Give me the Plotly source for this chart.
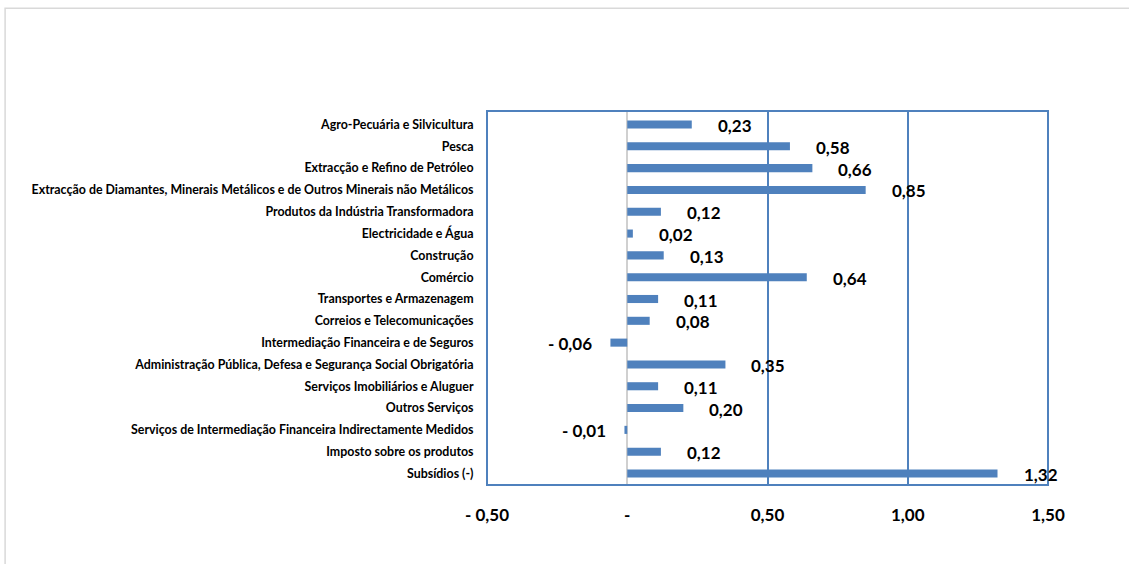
import plotly.graph_objects as go

categories = [
    "Agro-Pecuária e Silvicultura",
    "Pesca",
    "Extracção e Refino de Petróleo",
    "Extracção de Diamantes, Minerais Metálicos e de Outros Minerais não Metálicos",
    "Produtos da Indústria Transformadora",
    "Electricidade e Água",
    "Construção",
    "Comércio",
    "Transportes e Armazenagem",
    "Correios e Telecomunicações",
    "Intermediação Financeira e de Seguros",
    "Administração Pública, Defesa e Segurança Social Obrigatória",
    "Serviços Imobiliários e Aluguer",
    "Outros Serviços",
    "Serviços de Intermediação Financeira Indirectamente Medidos",
    "Imposto sobre os produtos",
    "Subsídios (-)",
]
values = [0.23, 0.58, 0.66, 0.85, 0.12, 0.02, 0.13, 0.64, 0.11, 0.08,
          -0.06, 0.35, 0.11, 0.20, -0.01, 0.12, 1.32]
value_labels = ["0,23", "0,58", "0,66", "0,85", "0,12", "0,02", "0,13", "0,64",
                "0,11", "0,08", "- 0,06", "0,35", "0,11", "0,20", "- 0,01",
                "0,12", "1,32"]
tick_vals = [-0.5, 0, 0.5, 1.0, 1.5]
tick_text = ["- 0,50", "-", "0,50", "1,00", "1,50"]

BLUE = "#4F81BD"
FONT = "Lato"

fig = go.Figure()
fig.add_trace(go.Bar(
    y=categories, x=values, orientation="h",
    marker=dict(color=BLUE, line=dict(width=0)),
    hoverinfo="x+y",
))

annotations = []
for c, v, t in zip(categories, values, value_labels):
    pos = v >= 0
    annotations.append(dict(x=v, y=c, xref="x", yref="y", text=t,
                            showarrow=False,
                            xanchor="left" if pos else "right",
                            xshift=24 if pos else -16, yshift=-1,
                            font=dict(family=FONT, size=17, color="black", weight="bold")))

shapes = [
    # outer chart frame
    dict(type="rect", xref="paper", yref="paper", x0=-0.859, x1=1.3, y0=-0.3, y1=1.275,
         line=dict(color="#D9D9D9", width=1.5), fillcolor="rgba(0,0,0,0)", layer="below"),
    # plot area box
    dict(type="rect", xref="paper", yref="paper", x0=0, x1=1, y0=0, y1=1,
         line=dict(color=BLUE, width=2), fillcolor="rgba(0,0,0,0)"),
]

fig.update_layout(
    width=1129, height=564,
    margin=dict(l=487, r=81, t=111, b=79),
    paper_bgcolor="white", plot_bgcolor="white",
    showlegend=False,
    bargap=0.63,
    annotations=annotations,
    shapes=shapes,
    font=dict(family=FONT, color="black"),
    xaxis=dict(
        range=[-0.5, 1.5], tickvals=tick_vals, ticktext=tick_text,
        showgrid=True, gridcolor=BLUE, gridwidth=1.5,
        zeroline=True, zerolinecolor="#D0D0D0", zerolinewidth=2,
        ticks="outside", ticklen=15, tickcolor="rgba(0,0,0,0)",
        tickfont=dict(family=FONT, size=17, color="black", weight="bold"),
        showline=False, fixedrange=True,
    ),
    yaxis=dict(
        autorange="reversed", showgrid=False, zeroline=False,
        ticks="outside", ticklen=10, tickcolor="rgba(0,0,0,0)",
        tickfont=dict(family=FONT, size=12.4, color="black", weight="bold"),
        showline=False, fixedrange=True,
    ),
)

fig.write_html("out.html", config={"displayModeBar": False},
               post_script="document.body.style.margin='0';")
